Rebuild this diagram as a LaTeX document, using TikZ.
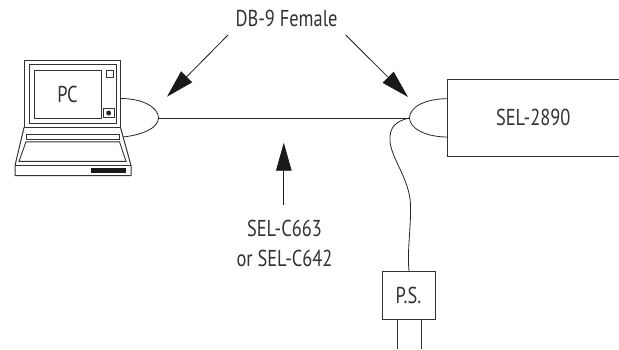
\documentclass[tikz,border=0pt]{standalone}
\usepackage{fontspec}
\setmainfont[FakeStretch=0.8]{PT Sans}
\usetikzlibrary{arrows.meta}
\tikzset{
  ln/.style={draw=black!80,line width=0.9pt},
  thin ln/.style={draw=black!85,line width=0.8pt},
  lbl/.style={inner sep=0pt,font=\fontsize{23}{29.5}\selectfont,text=black!80,align=center},
  callout/.style={draw=black!90,line width=0.8pt,-{Triangle[length=28pt,width=15.5pt]},shorten >=0pt},
  boxn/.style={draw=black!80,line width=1pt,inner sep=0pt}
}
\begin{document}
\begin{tikzpicture}[x=1pt,y=-1pt]
\useasboundingbox (0,0) rectangle (619,349);
% laptop
\draw[ln,line width=1pt] (24,127.5) rectangle (120.5,60);
\draw[ln] (29,123) rectangle (116,64.5);
\node[boxn,minimum width=67pt,minimum height=48pt,lbl,draw=black!80] (pc) at (67.5,94) {PC};
\draw[ln,line width=.7pt] (106,70) rectangle (113,77);
\draw[ln,line width=1pt] (103.5,108) rectangle (114,117);
\fill[black!85] (108.7,113) circle (2.5);
\draw[ln,line width=1pt,line join=round] (24,127.5) -- (15,165.5) -- (15,175.5) -- (131,175.5) -- (131,165.5) -- (120.5,127.5);
\draw[ln,line width=1pt] (15,165.5) -- (131,165.5);
\draw[ln] (26,134.5) rectangle (119,139.2);
\draw[ln] (26,141.8) -- (19,161.3) -- (126,161.3) -- (119.5,141.8) -- cycle;
\fill[black!90] (91,168.3) rectangle (126,173.3);
% SEL-2890 (runs off the right edge)
\node[boxn,minimum width=171.5pt,minimum height=77pt,lbl] (sel) at (533.25,117.5) {SEL-2890};
% PS
\node[boxn,minimum width=53pt,minimum height=48pt,lbl] (ps) at (408.5,295) {P.S.};
\coordinate (prongA) at (397,349);
\coordinate (prongB) at (421,349);
\draw[ln,line width=1pt] (397,319) -- (prongA);
\draw[ln,line width=1pt] (421,319) -- (prongB);
% connectors
\coordinate (ltip) at (158.5,118);
\coordinate (rtip) at (409.5,118);
\draw[thin ln] (121,98.5) .. controls (142,98.5) and (158.5,107) .. (ltip)
  .. controls (158.5,128) and (142,135) .. (123,137);
\draw[thin ln] (447.5,98.7) .. controls (425,98.7) and (409.5,107) .. (rtip)
  .. controls (409.5,128) and (425,137) .. (447.5,137);
\draw[thin ln] (ltip) -- (rtip);
\draw[thin ln] (rtip) .. controls (396,121) and (389,127) .. (390,141)
  .. controls (391,158) and (410,180) .. (410.5,205)
  .. controls (411,230) and (407,250) .. (409,271);
% labels and arrows
\node[lbl] (db) at (286.5,18.7) {DB-9 Female};
\node[lbl] (cable) at (284.5,243.5) {SEL-C663\\or SEL-C642};
\coordinate (a1s) at (228,35);
\coordinate (a1t) at (167,96.7);
\coordinate (a2s) at (345.7,35);
\coordinate (a2t) at (408,97);
\coordinate (a3s) at (283.8,204.5);
\coordinate (a3t) at (283.8,142.7);
\draw[callout] (a1s) -- (a1t);
\draw[callout] (a2s) -- (a2t);
\draw[callout] (a3s) -- (a3t);
\end{tikzpicture}
\end{document}
